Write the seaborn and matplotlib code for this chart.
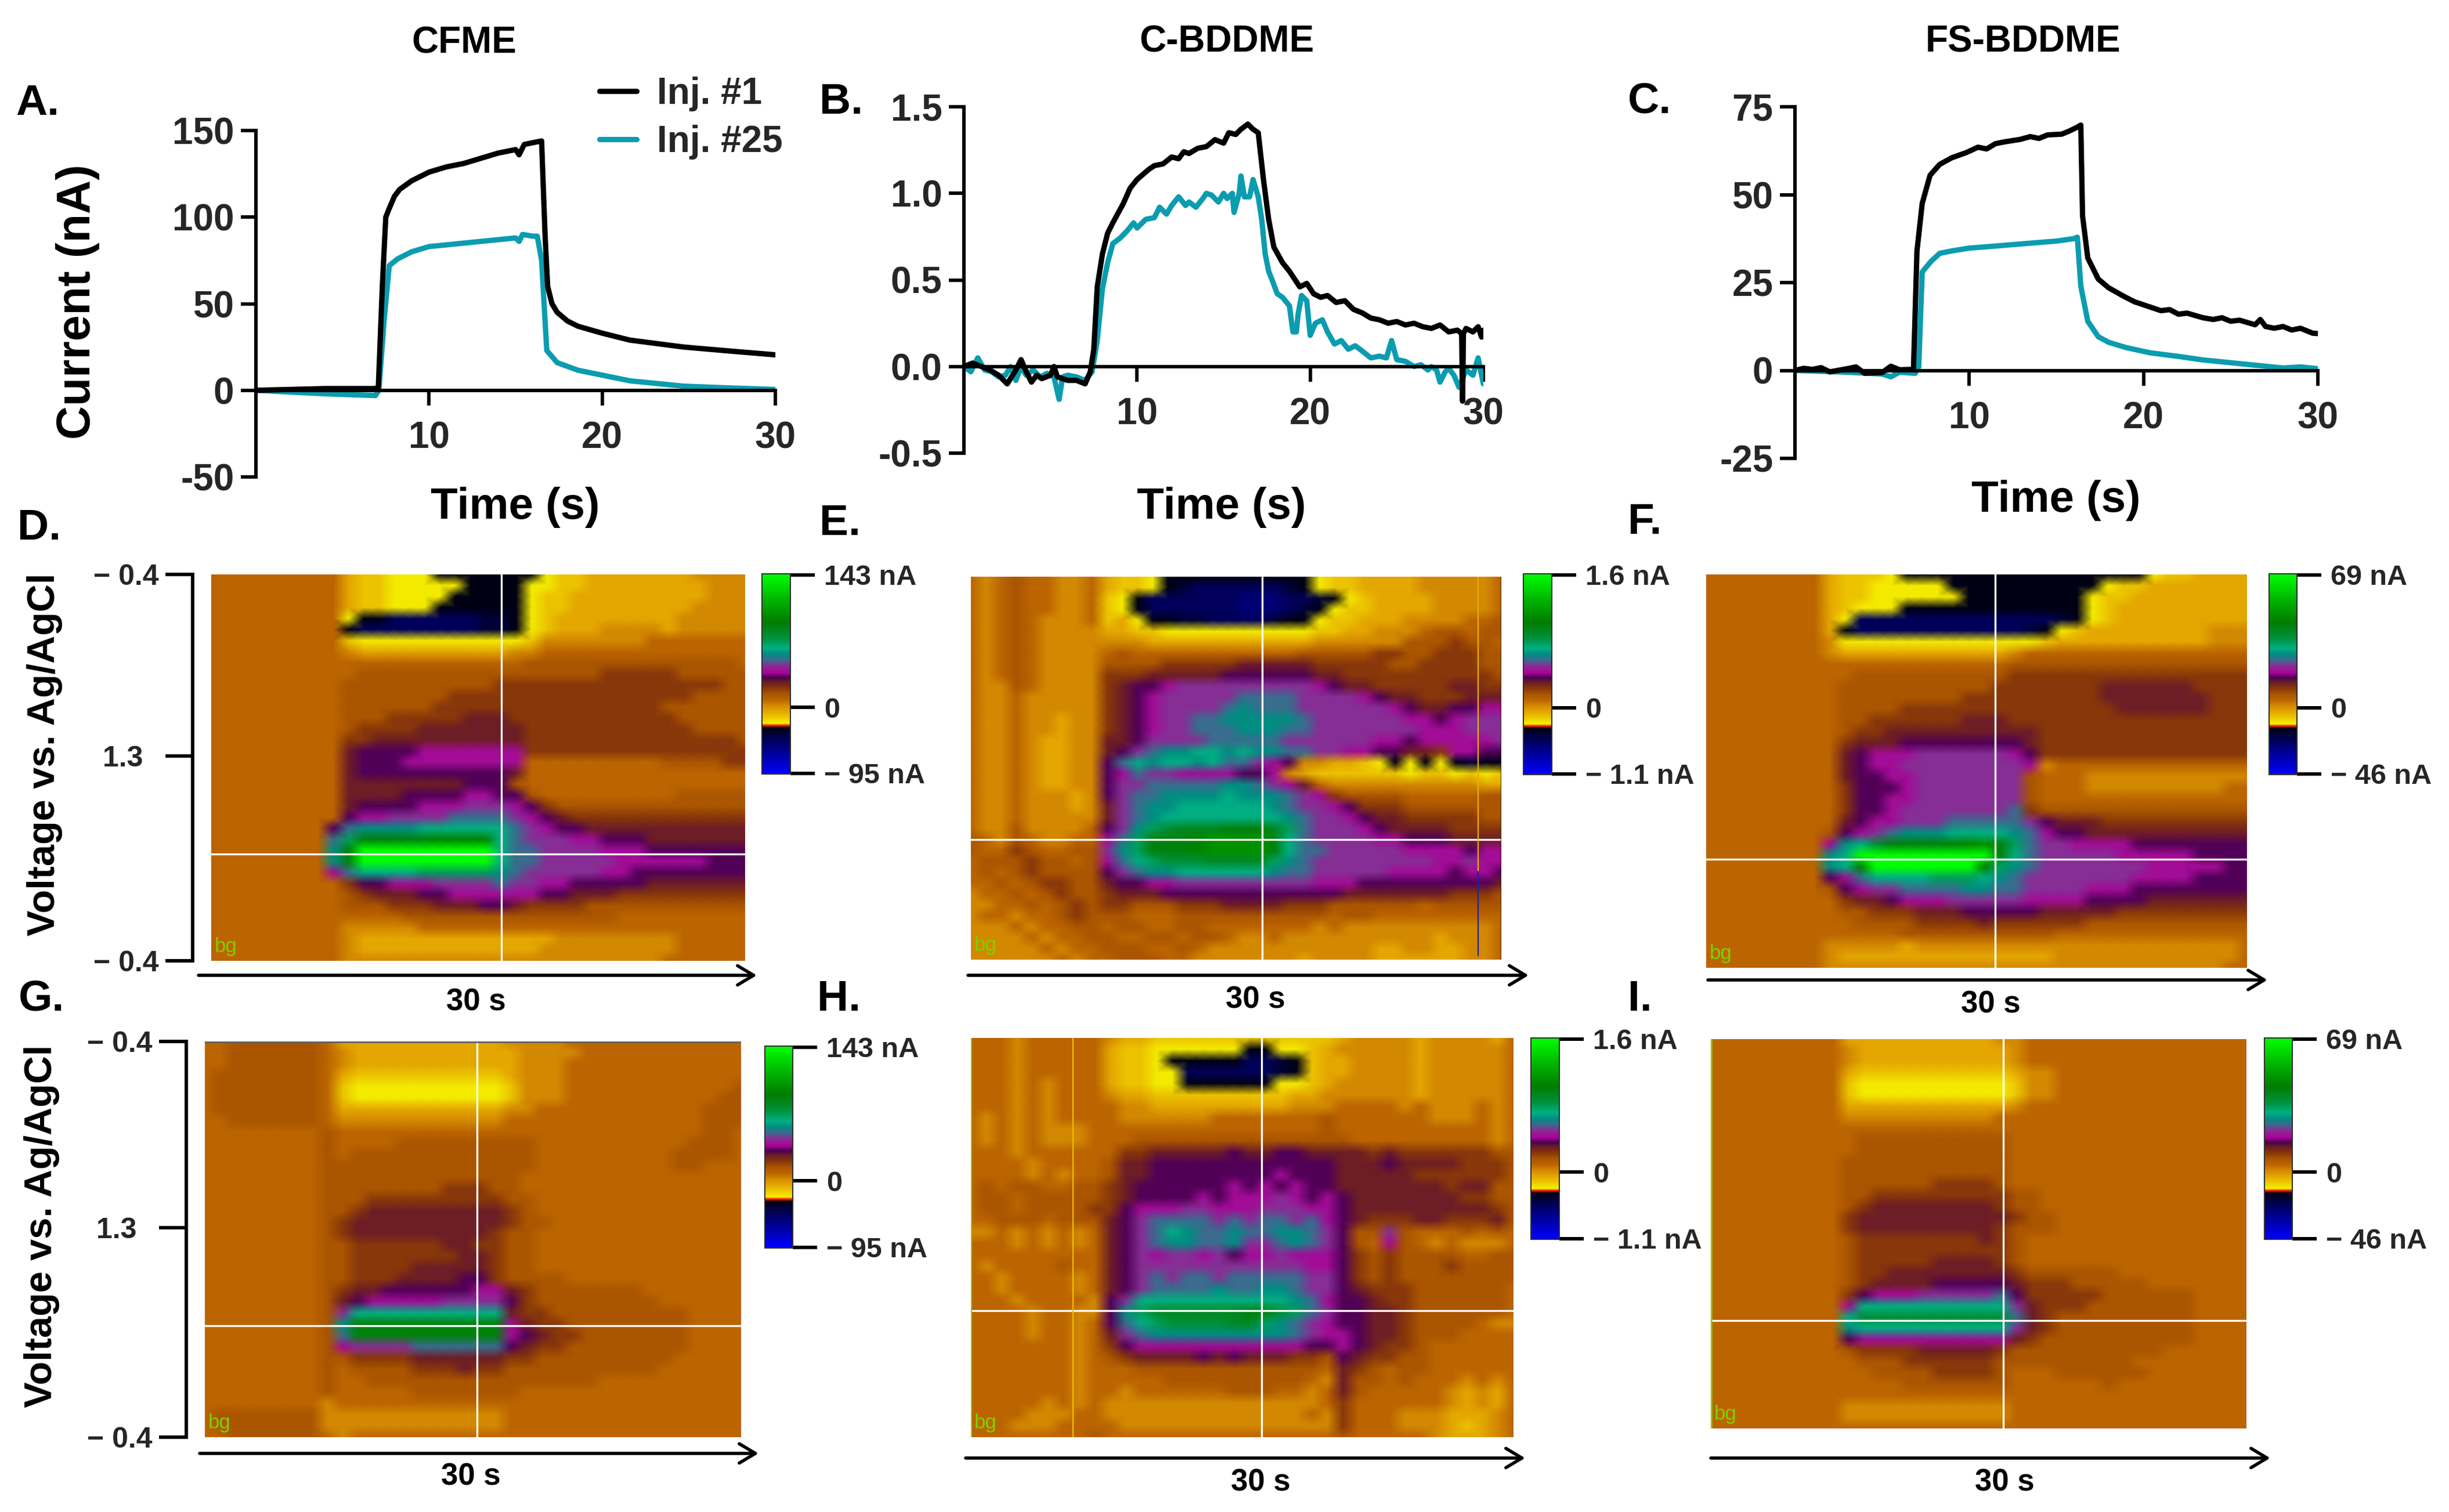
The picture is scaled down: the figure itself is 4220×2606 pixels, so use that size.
import numpy as np
import pandas as pd
import seaborn as sns
import matplotlib
matplotlib.use("Agg")
import matplotlib.pyplot as plt
from matplotlib.cm import ScalarMappable
from matplotlib.colors import LinearSegmentedColormap, Normalize

W, H = 4220, 2606
sns.set_style("white")
plt.rcParams['font.family'] = ['Liberation Sans', 'DejaVu Sans']
plt.rcParams['font.weight'] = 'bold'

BLACK, TEAL = '#000000', '#0b9cb0'

# ---------- transient traces (time s, current) ----------
a1_t = [0,2,4,6.9,7.07,7.3,7.5,7.7,8,8.3,9,10,11,12,13,14,15,15.2,15.5,16,16.5,16.7,16.85,17.1,17.4,18,18.6,20,21.6,24.7,27,30]
a1_v = [0,.5,1,1,2,60,100,105,112,116,121,126,129,131,134,137,139,136,142,143,144,90,60,50,45,40,37,33,29,25,23,20.5]
a25_t = [0,2,4,6.9,7.1,7.4,7.7,8.2,9,10,12,14,15,15.2,15.4,16,16.25,16.5,16.8,17.4,18.6,21.6,24.7,27,30]
a25_v = [0,-1,-2,-3,0,40,72,76,80,83,85,87,88,86,90,89,89,75,23,16,11.6,5.5,2.4,1.5,.5]

b1_t = [0,.5,1,1.5,2,2.5,3,3.3,3.6,3.9,4.2,4.5,5,5.2,5.4,6,6.5,7,7.3,7.5,7.7,8,8.3,8.6,9.2,9.6,10,10.7,11,11.5,12,12.4,12.7,13,13.5,14,14.5,15,15.3,15.7,16,16.4,16.7,17,17.3,17.6,17.9,18.4,18.8,19.4,19.8,20.2,20.6,21,21.5,22,22.5,23,23.5,24,24.5,25,25.5,26,26.5,27,27.5,28,28.5,28.75,28.8,28.85,29,29.4,29.7,29.9,30]
b1_v = [0,.02,0,-.02,-.05,-.1,-.02,.04,-.03,-.09,-.05,-.07,-.05,0,-.06,-.08,-.08,-.1,-.03,.1,.46,.65,.77,.83,.94,1.03,1.08,1.14,1.16,1.17,1.21,1.2,1.24,1.23,1.26,1.27,1.31,1.29,1.35,1.34,1.37,1.40,1.37,1.35,1.08,.85,.69,.6,.55,.46,.48,.42,.4,.41,.37,.38,.33,.31,.28,.27,.25,.26,.24,.25,.23,.22,.24,.2,.21,.19,-.2,.19,.22,.2,.23,.17,.21]
b25_t = [0,.4,.8,1.2,1.6,2,2.4,2.7,3,3.3,3.6,4,4.4,4.8,5.2,5.5,5.7,6,6.5,7,7.4,7.7,8,8.3,8.6,9,9.4,9.8,10,10.5,11,11.3,11.7,12,12.4,12.8,13,13.4,13.8,14,14.3,14.7,15,15.2,15.5,15.6,15.9,16,16.2,16.5,16.7,17,17.2,17.4,17.6,17.8,18.1,18.4,18.8,19,19.2,19.3,19.5,19.8,20,20.3,20.7,21,21.4,21.8,22.2,22.6,23,23.5,24,24.4,24.7,25,25.5,26,26.4,26.8,27,27.3,27.5,27.8,28,28.3,28.6,29,29.4,29.7,30]
b25_v = [0,-.03,.05,-.02,-.03,-.06,-.05,0,-.08,0,-.05,-.02,-.06,-.04,-.06,-.19,-.06,-.05,-.06,-.08,-.03,.15,.45,.6,.71,.74,.78,.83,.8,.85,.86,.92,.88,.93,.98,.93,.95,.92,.97,1.0,.99,.95,1.0,.97,1.0,.89,1.0,1.1,.98,.98,1.08,.98,.85,.65,.55,.5,.42,.4,.35,.2,.2,.3,.41,.38,.18,.25,.27,.2,.13,.15,.1,.12,.09,.05,.06,.05,.15,.04,.03,0,.01,-.02,0,-.02,-.09,-.03,-.01,-.05,-.12,-.02,-.05,.05,-.1]

c1_t = [0,.5,1,1.5,2,3,3.5,4,5,5.5,6,6.8,7,7.3,7.75,8.3,9,9.85,10.5,11,11.5,12,12.9,13.5,14,14.5,15.3,15.7,16.2,16.4,16.5,16.8,17.4,18,18.9,19.5,20.4,21,21.5,22,22.5,23.4,24,24.5,25,25.5,26.4,26.7,27,27.5,28,28.5,29,29.7,30]
c1_v = [0,.6,.3,.8,-.4,.5,1,-.8,-.6,1.2,.2,.3,34,47.5,55.5,58.6,60.5,62,63.5,63,64.5,65,65.7,66.5,66,67,67.2,68,69.2,69.8,44,32,26,23.5,21,19.5,18,17,17.3,16,16.3,15,14.5,15,14,14.3,13,14.5,12.5,12,12.5,11.5,12,10.6,10.5]
c25_t = [0,3,5,5.5,6,6.9,7.1,7.3,7.8,8.3,9,10,11.3,13,14,15,16,16.2,16.4,16.8,17.4,18,19,20.4,22,23.4,26,28,29,30]
c25_v = [0,-.5,-1,-1.8,-.5,-.8,1,28,31,33.3,34,34.8,35.3,36,36.4,36.8,37.5,37.9,24,14,9.6,8,6.5,5,4,3,1.7,.7,1,.5]

# ---------- colour-scale levels: base-36 code per cell, rows top to bottom ----------
heat_d = [
"ddddddddd baa999888 88889aabb bbbbbcccc","ddddddddd baa999998 88899aabb bbbbbbccc",
"ddddddddd baa999988 8889aabbb bbbbbbccc","ddddddddd baa999888 8889aabbb bbbbbcccc",
"ddddddddd 988666666 7789abbbb bbbbccccc","ddddddddd 866666666 7789abbbc cccbccccc",
"ddddddddd a99999999 999accccc ccddddddd","ddddddddd cbbbbbbbb bbccddddd ddddddddd",
"ddddddddd ddddddddd dddeeeeee eeeeeeeed","ddddddddd deeeeeeee eeeeeeeef ffffeeeee",
"ddddddddd eeeeeeeee effffffff fffffffee","ddddddddd eeeeeeeff fffffffff fffffeeee",
"ddddddddd eeeeeefff fffffffff fffeeeeee","ddddddddd eeefffffg ggfffffff ffffeeeee",
"ddddddddd effffgggg gggffffff fffffeeee","ddddddddd ffggggggg gggffffff ffffffffe",
"ddddddddd ghhhhiiii iiiffffff fffffffff","ddddddddd ghhhiiiii iiidddddd dddeeeeff",
"ddddddddd ghhhhhhhh hhgdddddd ddddddddd","ddddddddd ggggggggh hhedddddd ddddddddd",
"ddddddddd gggghhhhi ihheddddd ddddeeeee","ddddddddd ghhhhiiij jjihfeeee eeeeeeeee",
"ddddddddd hiijjjjkk kkjihgfff fffffffff","ddddddddh kllllmmmm mmkjihhgg ggggggggg",
"ddddddddk nqqqqqrrr rmkjjjiih hhggggggg","ddddddddl qzzzzzzzz zmkkjjjji iihhhhhhh",
"ddddddddl qzzzzzzzz zmkkjjjjj iiiiiihhh","ddddddddi kmmmmnnnn nlkjjjjji ihhhhhhhh",
"ddddddddd fhhiiijjj jkjjiihhh hhggggggg","ddddddddd efggghhii iiiihhggg fffffffff",
"ddddddddd eeefffggg hhgffffee eeeeeeeee","ddddddddd ddddeeeee eeeeeeeee ddddddddd",
"ddddddddd cccccdddd ddddddddd ddddddddd","ddddddddd cbbbbbbbb bbbbbcccc ccccddddd",
"ddddddddd cbbbbbbbb bbbbccccc ccccddddd","ddddddddd ccccccccc ccccccccc cccdddddd",
]
heat_e = [
"dcdeddccd baa988888 888889aab bbbcccccd","dcdeddccd baa987666 666789aab bbbcccccd",
"dcdeddccd a98666666 55566789a bbbbccccd","dcdeddccd a98666666 555678 9aa bbbbccccd",
"dcdedcccd ab9887766 667889aab bbccccdde","dcdedcccc bbaa99999 99999aabb cccdeedee",
"dcdedcccc cccbbbbbb bbbbbcccc cceeefeed","dcdedcccc deddddddd ddddeeeee ffeefffee",
"dcdedcccc eeeefffff gggggffff feeffffee","dcdedcccc fffgggggh hhhhhggff ffffffffe",
"dccedcccc fghhijjjj jjjjjihgg fffffggff","dccdccccc fghijjjjj kkkkjjjji hggfffggg",
"dccdccccc fghijjjjk lkkkjjjjj jihgghhii","dccdccbcc fghijjkkl llllkjjjj jjiihijjj",
"dccdccbcc fghijjkkk lllkkjjjj jjjiiijjj","dccdcbbcc gghjjjjkk kkkjjjjjj iihiiiiij",
"dccdcbbcc ghjkllmml mllkkjjii hhggfiihh","dccdcbbcc hkmlmmlmk kjihccbba 989898788",
"dccdcbbcc hikjjiiii hhicbaaaa aa9aa9a9a","dccdcbbcc hjjkkkkkl lkjigdccc cccccccbb",
"dccdcccbc hjkkllllm lllkjifee eedddddee","dccdcccbc gjkllmmmm mmlkjjihf ffeeeeeee",
"dccdccccc gjklmmmmm mmmlkjjih ggfffffee","dcceccccd hjlnopppq qqpnkjjji hggggffff",
"edcedccdd iknqqqrss ssqmkjjjj iihhhgggg","eddfeddee jlnqqqrss ssqmkkjjj jjiiiihii",
"deeefeede ikmnooopp ppnlkjjjj jjjjiijii","dedefeeee hjkllmmmm mmlkkjjjj jiiiihiih",
"ddedeffee ghhiijjjj jjjjjiiih hhhhhhhhg","cddedefee fggghhhhh hhhhhhhgg gggggfffe",
"ccddedefe ffeeefffg gggfffeee eeedeeeee","cddcddefe eedddeeee eeeeeedee ddddddddd",
"cccdcddee deeddeedd dddddcdcc ccccccccd","ccccdcdde eddeedeed ccdcccccc ccccbcccd",
"cccccdcdd eeeddedcc ccccccccc bbccbbccd","ccccccdcd deeeddccc ccccbcccc bbbbbbccd",
]
heat_f = [
"ddddddddb aaa988888 888888888 889aabbbb","ddddddddb aa9999988 888888889 aabbbbbbb",
"ddddddddb aa9999998 88888889a abbbbbbbb","ddddddddb a99988888 88888889a bbbbbbbbb",
"ddddddddb 966666666 66666789a bbbbbbbbb","ddddddddb 866666666 666789abb bbbbbbccc",
"ddddddddc 999999999 9999abbbb bbbbbbccc","ddddddddc bbbbbbbbb bbcdddddd ddddddddd",
"ddddddddd ddddddddd ddeeeeeee eeeeeeeee","ddddddddd deeeeeeee eefffffff fffffffff",
"ddddddddd eeeeeeeee efffffffg gggggffff","ddddddddd eeeeeeeef ffffffffg ggggggfff",
"ddddddddd eeeefffff fffffffff ggggggfff","ddddddddd eeffffffg ggfffffff fffffffff",
"ddddddddd effgggggg ggggfffff fffffffff","ddddddddd fggghhhhh hhhgfffff fffffffff",
"ddddddddd ghiiijjjj jjihfffff fffffffff","ddddddddd ghiijjjjj jjjicdddd ddddddddd",
"ddddddddd ghhiijjjj jjjedddcc ccccccccc","ddddddddd fhhhijjjj jjjedddcc cccccccdd",
"ddddddddd fhhiijjjj jjjeddddd ddddddddd","ddddddddd fhhijjjjj jjkfeeeee eeeeeeeee",
"ddddddddd ghiijjjkk kkkjhgggf fffffffff","dddddddde hijklllmm mmlkihhgg ggggggggg",
"ddddddddi lmoqqqqqr sqnkjjiii ihhhhhhhh","ddddddddl mzzzzzzzz zqmkjjjjj iiiiihhhh",
"ddddddddl mqzzzzzzz rnlkjjjjj jjiiiiihh","ddddddddh ikmmmmnnn mlkjjjjjj jiiiihhhh",
"dddddddde hijjkkkkl lkkjjjjii ihhhhhhhh","ddddddddd fgghiiijj jjjiiiihh hhggggggg",
"ddddddddd eefffgggh hhhhggggg fffffffff","ddddddddd deeeeffff gffffffee eeeeeeeee",
"ddddddddd ddddeeeee eeeeedddd ddddddddd","ddddddddc ccccbcccc ccccccccc ccccccccd",
"ddddddddc bbbbbbbbb bbbbbcccc ccccccccd","ddddddddc ccccccccc ccccccccc cccccccdd",
]
heat_g = [
"ddeeeeeed bbbbbbbbb bbccccddd ddddddddd","ddeeeeeed cbbbbbbbb bbbccccdd ddddddddd",
"ddeeeeeed cbbbbbbbb bbbcccddd ddddddddd","deeeeeeed baaaaaaaa aabcccddd ddddddddd",
"deeeeeeed a99999999 99acccddd dddddddde","deeeeeeed a99999999 99acccddd dddddddee",
"deeeeeeed bbbbbbbbb bbccddddd ddddddeee","ddeeeeeed ccccccccc ccddddddd ddddddeee",
"dddddddde ddddddddd ddddddddd ddddddeed","dddddddde ddddeeeee eeeeddddd dddddeeed",
"dddddddde deeeeeeee eeeeddddd ddddeeeed","dddddddde eeeeeeeee eeeeddddd ddddeeddd",
"dddddddde eeeeeeeee eeedddddd ddddddddd","dddddddde eeeeeeeff feedddddd ddddddddd",
"dddddddde eefffffff ffeeddddd ddddddddd","dddddddde efggggggg ggfeddddd ddddddddd",
"dddddddde fgggggggg ggfeedddd ddddddddd","dddddddde fgggggggg gfeeddddd ddddddddd",
"dddddddde effffffgg ffeeddddd ddddddddd","dddddddde efffffffg gfeeddddd ddddddddd",
"dddddddde effffgggg gfeeddddd ddddddddd","dddddddde efffggggh hfeeeeddd ddddddddd",
"dddddddde fgghhhhhh iigfeeeee eeddddddd","dddddddde ghiiiiijj jjhfeeeee eeedddddd",
"dddddddde jmmmmmmmm mmgffeeee eeeeedddd","dddddddde lqqqqqqqq qqigffeee eeeeedddd",
"dddddddde kqqqqqqqq qqihgffee eeeeedddd","dddddddde ijjjjkkkk kkhgffeee eeeeedddd",
"dddddddde effffgggg ggffeeeee eeeeddddd","dddddddde deeeefffg ffeeeeeee eeeddddd",
"dddddddde ddeeeeeee eeeeeeeed ddddddddd","dddddddde dddddeeee eeedddddd ddddddddd",
"ddddddddc ddddddddd ddddddddd ddddddddd","deeeeeeec ccccccccc ccddddddd ddddddddd",
"deeeeeeec ccccccccc ccddddddd ddddddddd","ddeeeeeed cdddddddd ddddddddd ddddddddd",
]
heat_h = [
"dddcddddd cbbaaaaaa aaaaaabcc ccbccccbd","dddcddddd baa999999 8899abccc ccbcccccd",
"dddcddddd baa988888 6678abbcc ccbcccccd","dddcddddd baa996666 6678abbcc ccbcccccd",
"dddcdcddd baa998888 8899abccc ccbcccccd","dddcdcddd cbbaaaaaa aaabbcccc ccbcccccd",
"dddcdcddd dccbbbbbb bbbcccddd dcdcccdcd","dcdcdcddd dccccccdd dddddeddd dddcccdcd",
"dcdcdcccd ddddddddd dddddeddd dddddddcd","dcdcdcccd ddeeeeeee eeeeeeedd dddddddcd",
"dddcddddd dffgggggh gghhggggf gffffffee","ddddcdddd egghhhhhh hhhhhhggg hggggfffe",
"ddddcdcdd egghhhhhh hhihhhggg ggffffffe","dedeeddee fghhhhhhi hihihhggg ggggfggee",
"deedeeeee fghhhhihi iijihihgg gggggffee","deedeeeef fhiiijjii ijjjiihgg gggggggfe",
"ddeeedeee ghjkkkkjk jkkjkihgf ffggfffge","ccdcdcdcd ghjkmlkkl kkllkjhee jedddeded",
"dddcdcdcd ghjkllkkl jjklkjhed iedcdcccd","ddddddddd ghjijjijh iijiiihfe feeeeddee",
"dcddddedd ghjjjjjjj jjjjiihfe feeefeeee","ddcddddcd ghjkjkkjk kkkkjjhfe feeeeeeee",
"ddcddddcd ghjkkkklk kllkjjhgf ffeeeeeed","dddcddddc hjmmmmmmm mmmlkihhg ffeeeeeed",
"ddddcddcc hlnpppppp qqonkjhhg gfeeeeeed","ddddcddcd hkmnoooop pnlkjihhg gfeeeedcc",
"ddddcddcd gjkllllll lllkjiihg gfeeedddd","dddddddcd fhiiiiiii iiiihhihg ffedddddd",
"dddddddcd efgggghgh gggffehgf feedddddd","dddddddcd ddeeeeeee eeeeedgfe deedddddd",
"dddddddcd ddddeeeee eeeedcgee dedddcdcd","dddddddcd dcdddddde eeddcdged ddddcbcbd",
"dddddcdcd ccccccccc cccccdfdd ddddcbcbd","ddddcccdd ccccccccc ccccdcfdd dcccbbbcd",
"dddcccddd dcccccccc ccccccfdd dcccbabcd","dddddddde ddddddddd ddddddedd dddcbbbcd",
]
heat_i = [
"ddddddddd bbbbbbbbb bccdddddd ddddddddd","ddddddddd cbbbbbbbb bbcdddddd ddddddddd",
"ddddddddd cbbbbbbbb bbcdddddd ddddddddd","ddddddddd baaaaaaaa aabccdddd ddddddddd",
"ddddddddd a99999999 99accdddd ddddddddd","ddddddddd a99999999 99accdddd ddddddddd",
"ddddddddd bbbbbbbbb bbcdddddd ddddddddd","ddddddddd ccccccccc cdddddddd ddddddddd",
"ddddddddd ddddddddd ddddddddd ddddddddd","ddddddddd deeeeeeee eeddddddd ddddddddd",
"ddddddddd deeeeeeee eeddddddd ddddddddd","ddddddddd eeeeeeeee eeddddddd ddddddddd",
"ddddddddd eeeeeeeee eeddddddd ddddddddd","ddddddddd eeeeeefff feddddddd ddddddddd",
"ddddddddd eefffffff ffeeddddd ddddddddd","ddddddddd efggggggg gfeeddddd ddddddddd",
"ddddddddd fgggggggg ggfeedddd ddddddddd","ddddddddd fgggggggg gfeeedddd ddddddddd",
"ddddddddd effffffff gfedddddd ddddddddd","ddddddddd effffffff ffedddddd ddddddddd",
"ddddddddd efffffggg gfedddddd ddddddddd","ddddddddd effgggggg ggfeeeeee ddddddddd",
"ddddddddd efgggghhh hhgfffeee eeddddddd","ddddddddd fhiiijjjj jkhfffffe eeeeedddd",
"ddddddddd immmmmmmm mmjgfffee eeeeedddd","ddddddddd moooooooo ookgfeeee eeeeedddd",
"ddddddddd lmmmmmmmm mmjgfeeee eeeeedddd","ddddddddd hiiiiiiii iigfeeeee eeeeedddd",
"ddddddddd effffgggg gfeeeeeee eeedddddd","ddddddddd deeefffff feeeeeeee edddddddd",
"ddddddddd ddeeeefff fedddeeee eeddddddd","ddddddddd ddddeeeee eedddddde ddddddddd",
"ddddddddd ddddddddd ddddddddd ddddddddd","ddddddddd ccccccccc ccddddddd ddddddddd",
"ddddddddd ccccccccc ccddddddd ddddddddd","ddddddddd ddddddddd ddddddddd ddddddddd",
]

scale_stops = [0,17,22.9,24.3,25.2,28.6,31.4,34.3,37.1,40,42.9,45.7,48.3,50.5,54,57,60,62.9,68,76,88,100]
scale_cols = ['#0000ff','#00005a','#000014','#ff2800','#f5f000','#ebc300','#e4a500','#d28700','#bb6400','#aa5500','#87370a','#6e1e23','#460050','#aa0096','#8c2a96','#3c6a8e','#008c82','#00af82','#00913c','#007d00','#00b900','#00ff00']
cbar_ticks = [0.4, 33.3, 99.5]

def px_axes(fig, x0, y0, x1, y1):
    return fig.add_axes([x0 / W, 1 - y1 / H, (x1 - x0) / W, (y1 - y0) / H])

def decode(rows):
    out = []
    for r in rows:
        s = r.replace(' ', '')
        s = s.ljust(36, s[-1])[:36]
        out.append([int(c, 36) * 100 / 35 for c in s])
    return np.array(out)

cmap = LinearSegmentedColormap.from_list('voltammo', [(s / 100, c) for s, c in zip(scale_stops, scale_cols)], N=512)
norm = Normalize(0, 100)

fig = plt.figure(figsize=(W / 100, H / 100), dpi=100, facecolor='white')

# ---------- line panels ----------
def line_panel(box, ymin, ymax, yticks, ylabels, s1, s25):
    ax = px_axes(fig, *box)
    ax.patch.set_alpha(0)
    sns.lineplot(x=s25[0], y=s25[1], color=TEAL, lw=6.6, ax=ax, estimator=None, sort=False, label='Inj. #25')
    sns.lineplot(x=s1[0], y=s1[1], color=BLACK, lw=6.6, ax=ax, estimator=None, sort=False, label='Inj. #1')
    ax.set_xlim(0, 30)
    ax.set_ylim(ymin, ymax)
    ax.spines['top'].set_visible(False)
    ax.spines['right'].set_visible(False)
    ax.spines['bottom'].set_position(('data', 0))
    for s in ('left', 'bottom'):
        ax.spines[s].set_linewidth(4.3)
        ax.spines[s].set_color('black')
    ax.set_xticks([10, 20, 30])
    ax.set_yticks(yticks)
    ax.set_yticklabels(ylabels)
    ax.tick_params(axis='x', length=19, width=4.3, labelsize=46, pad=19, color='black', bottom=True)
    ax.tick_params(axis='y', length=19, width=4.3, labelsize=46, pad=8, color='black', left=True)
    ax.set_xlabel('')
    ax.set_ylabel('')
    return ax

ax_a = line_panel((441, 225, 1336, 822), -50, 150, [-50, 0, 50, 100, 150], ['-50', '0', '50', '100', '150'], (a1_t, a1_v), (a25_t, a25_v))
ax_b = line_panel((1661, 184, 2556, 781), -.5, 1.5, [-.5, 0, .5, 1, 1.5], ['-0.5', '0.0', '0.5', '1.0', '1.5'], (b1_t, b1_v), (b25_t, b25_v))
ax_c = line_panel((3093, 184, 3994, 790), -25, 75, [-25, 0, 25, 50, 75], ['-25', '0', '25', '50', '75'], (c1_t, c1_v), (c25_t, c25_v))
ax_b.get_legend().remove()
ax_c.get_legend().remove()
handles, labels = ax_a.get_legend_handles_labels()
ax_a.legend(handles[::-1], labels[::-1], frameon=False, fontsize=46, loc='upper left',
            bbox_to_anchor=(1033 / W, 1 - 132 / H), bbox_transform=fig.transFigure,
            handlelength=1.0, handletextpad=.55, labelspacing=.36, borderpad=0, borderaxespad=0)

# ---------- colour plots ----------
def heat_panel(box, rows, cross, vert_ticks=False):
    ax = px_axes(fig, *box)
    data = pd.DataFrame(decode(rows))
    sns.heatmap(data, cmap=cmap, vmin=0, vmax=100, cbar=False, ax=ax, shading='gouraud',
                xticklabels=False, yticklabels=False)
    ny, nx = data.shape
    ax.set_xlim(0, nx - 1)
    ax.set_ylim(ny - 1, 0)
    for s in ax.spines.values():
        s.set_visible(False)
    ax.axvline(cross[0] * (nx - 1), color='white', lw=2.4)
    ax.axhline(cross[1] * (ny - 1), color='white', lw=2.4)
    ax.text(.006, .012, 'bg', color='#7fd000', fontsize=25, fontweight='normal', transform=ax.transAxes, va='bottom')
    if vert_ticks:
        ax.spines['left'].set_visible(True)
        ax.spines['left'].set_position(('outward', 23))
        ax.spines['left'].set_linewidth(4.3)
        ax.spines['left'].set_color('black')
        ax.set_yticks([0, .47 * (ny - 1), ny - 1])
        ax.set_yticklabels(['\u2212 0.4', '1.3  ', '\u2212 0.4'])
        ax.tick_params(axis='y', left=True, length=34, width=4.3, labelsize=36, pad=8, color='black')
    return ax

def scale_bar(box, labels):
    cax = px_axes(fig, *box)
    cb = fig.colorbar(ScalarMappable(norm=norm, cmap=cmap), cax=cax)
    cb.set_ticks(cbar_ticks)
    cb.set_ticklabels(labels)
    cb.outline.set_linewidth(1.5)
    cb.outline.set_edgecolor('#303030')
    cax.tick_params(axis='y', right=True, length=30, width=4.3, labelsize=35, pad=12, color='black')
    return cax

ax_d = heat_panel((364, 990, 1284, 1656), heat_d, (.544, .724), True)
ax_e = heat_panel((1673, 994, 2587, 1654), heat_e, (.549, .687))
ax_f = heat_panel((2940, 990, 3872, 1668), heat_f, (.534, .724))
ax_g = heat_panel((353, 1795, 1277, 2477), heat_g, (.508, .719), True)
ax_h = heat_panel((1673, 1789, 2608, 2477), heat_h, (.536, .683))
ax_i = heat_panel((2948, 1791, 3871, 2462), heat_i, (.546, .723))

# thin artefact lines and edges
ax_e.axvline(.956 * 35, color='#e8b000', lw=1.6, ymin=.23)
ax_e.axvline(.956 * 35, color='#2020a0', lw=1.6, ymax=.23, ymin=.01)
ax_e.axvline(35, color='#202020', lw=2)
ax_h.axvline(.188 * 35, color='#f0c000', lw=1.6)
ax_h.axvline(.0, color='#7fd000', lw=3)
ax_i.axvline(.0, color='#7fd000', lw=4)
ax_g.axhline(0, color='#606060', lw=4)

scale_bar((1313, 989, 1362, 1334), ['\u2212 95 nA', '0', '143 nA'])
scale_bar((2625, 989, 2674, 1335), ['\u2212 1.1 nA', '0', '1.6 nA'])
scale_bar((3910, 989, 3958, 1335), ['\u2212 46 nA', '0', '69 nA'])
scale_bar((1318, 1803, 1366, 2151), ['\u2212 95 nA', '0', '143 nA'])
scale_bar((2638, 1789, 2687, 2136), ['\u2212 1.1 nA', '0', '1.6 nA'])
scale_bar((3902, 1789, 3950, 2136), ['\u2212 46 nA', '0', '69 nA'])

# ---------- overlay: text and time arrows ----------
ov = fig.add_axes([0, 0, 1, 1], zorder=10)
ov.set_xlim(0, W)
ov.set_ylim(H, 0)
ov.axis('off')

def label(x, y, s, size, ha='center', rot=0):
    ov.text(x, y, s, fontsize=size, ha=ha, va='center', rotation=rot, rotation_mode='anchor', fontweight='bold', color='black')

for x, y, s in [(800, 75, 'CFME'), (2114, 73, 'C-BDDME'), (3486, 73, 'FS-BDDME')]:
    label(x, y, s, 46)
for x, y, s in [(27, 178, 'A.'), (1412, 177, 'B.'), (2805, 175, 'C.'), (30, 910, 'D.'), (1412, 903, 'E.'),
                (2805, 900, 'F.'), (32, 1722, 'G.'), (1408, 1722, 'H.'), (2805, 1722, 'I.')]:
    label(x, y, s, 54, ha='left')
for x, y in [(888, 875), (2105, 875), (3543, 863)]:
    label(x, y, 'Time (s)', 55)
label(134, 520, 'Current (nA)', 58, rot=90)
label(77, 1300, 'Voltage vs. Ag/AgCl', 48, rot=90)
label(72, 2113, 'Voltage vs. Ag/AgCl', 48, rot=90)

for x0, x1, y, xc, yt in [(342, 1304, 1681, 820, 1728), (1668, 2634, 1681, 2163, 1724), (2943, 3907, 1689, 3430, 1732),
                          (344, 1307, 2505, 811, 2546), (1664, 2628, 2513, 2172, 2555), (2948, 3912, 2513, 3454, 2555)]:
    ov.annotate('', xy=(x1, y), xytext=(x0, y),
                arrowprops=dict(arrowstyle='->,head_length=1.0,head_width=.6', lw=4.0, color='black', shrinkA=0, shrinkB=0, mutation_scale=20))
    label(xc, yt, '30 s', 38)

fig.savefig('out.png', dpi=100, facecolor='white')
